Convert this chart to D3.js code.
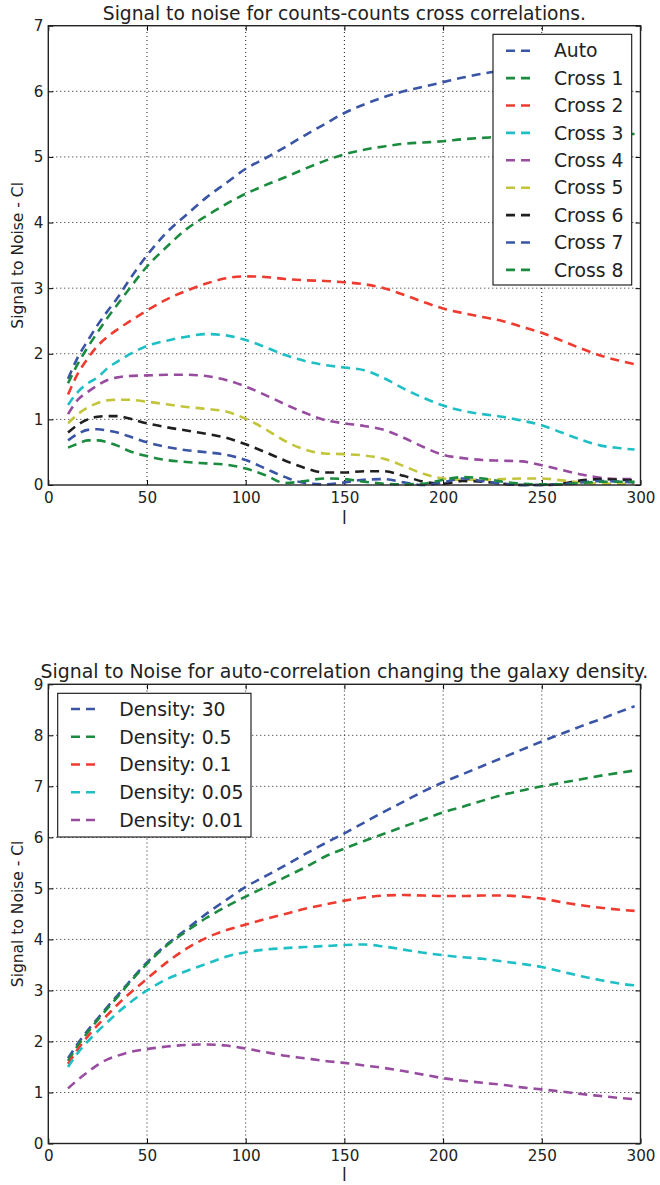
<!DOCTYPE html>
<html>
<head>
<meta charset="utf-8">
<script src="https://cdn.jsdelivr.net/npm/d3@7"></script>
<style>
  body { margin: 0; background: #fff; }
  svg { display: block; }
  text { font-family: "DejaVu Sans", sans-serif; fill: #222; }
</style>
</head>
<body>
<svg id="fig" width="660" height="1185"></svg>
<script>
// Multipole sampling shared by every curve
const ell = [10, 15, 20, 25, 30, 35, 40, 50, 60, 70, 80, 90, 100, 110, 120, 130, 140,
             150, 160, 170, 180, 190, 200, 210, 220, 230, 240, 250, 260, 270, 280, 290, 297];

// Counts-counts cross correlations: signal to noise
const autoSN   = [1.62,1.95,2.2,2.44,2.65,2.85,3.08,3.5,3.85,4.12,4.38,4.6,4.82,4.98,5.15,5.33,5.5,
                  5.67,5.8,5.91,6.0,6.07,6.14,6.21,6.27,6.31,6.34,6.37,6.39,6.41,6.42,6.43,6.43];
const cross1SN = [1.55,1.85,2.1,2.33,2.55,2.75,2.95,3.33,3.63,3.9,4.1,4.28,4.44,4.57,4.69,4.82,4.94,
                  5.04,5.11,5.16,5.2,5.22,5.24,5.27,5.29,5.31,5.32,5.33,5.34,5.34,5.35,5.35,5.35];
const cross2SN = [1.38,1.7,1.93,2.12,2.26,2.37,2.47,2.66,2.83,2.96,3.07,3.15,3.18,3.17,3.14,3.12,3.11,
                  3.09,3.06,3.0,2.9,2.79,2.69,2.62,2.56,2.5,2.41,2.32,2.2,2.08,1.97,1.89,1.84];
const cross3SN = [1.22,1.42,1.55,1.64,1.78,1.88,1.97,2.12,2.2,2.26,2.3,2.28,2.21,2.1,1.98,1.89,1.83,
                  1.79,1.75,1.63,1.47,1.33,1.21,1.13,1.08,1.04,0.98,0.91,0.8,0.69,0.6,0.56,0.54];
const cross4SN = [1.08,1.3,1.42,1.52,1.6,1.64,1.66,1.67,1.68,1.68,1.66,1.6,1.5,1.37,1.23,1.1,0.99,
                  0.94,0.9,0.84,0.72,0.58,0.46,0.41,0.38,0.37,0.36,0.3,0.23,0.16,0.11,0.09,0.09];
const cross5SN = [0.94,1.08,1.18,1.25,1.29,1.3,1.3,1.27,1.23,1.19,1.16,1.12,1.01,0.85,0.67,0.54,0.48,
                  0.47,0.45,0.4,0.29,0.17,0.1,0.08,0.08,0.09,0.1,0.1,0.07,0.04,0.02,0.02,0.02];
const cross6SN = [0.8,0.92,1.0,1.04,1.05,1.05,1.02,0.94,0.88,0.83,0.78,0.72,0.62,0.5,0.37,0.26,0.19,
                  0.19,0.21,0.21,0.14,0.05,0.02,0.06,0.05,0.02,0.0,0.0,0.02,0.07,0.09,0.08,0.07];
const cross7SN = [0.68,0.78,0.84,0.85,0.83,0.8,0.75,0.65,0.58,0.53,0.5,0.46,0.38,0.25,0.12,0.03,0.01,
                  0.04,0.08,0.09,0.04,0.0,0.04,0.1,0.06,0.02,0.0,0.0,0.01,0.04,0.06,0.05,0.04];
const cross8SN = [0.57,0.63,0.68,0.68,0.65,0.6,0.53,0.44,0.38,0.35,0.33,0.31,0.25,0.15,0.03,0.06,0.1,
                  0.09,0.05,0.02,0.01,0.02,0.08,0.12,0.1,0.05,0.02,0.01,0.01,0.03,0.05,0.05,0.05];

// Auto-correlation for different galaxy densities
const dens30SN  = [1.67,1.96,2.22,2.45,2.68,2.9,3.12,3.55,3.9,4.2,4.5,4.77,5.03,5.24,5.45,5.67,5.88,
                   6.08,6.29,6.5,6.7,6.9,7.08,7.24,7.4,7.56,7.72,7.88,8.03,8.18,8.32,8.47,8.57];
const dens05SN  = [1.62,1.92,2.18,2.42,2.65,2.87,3.1,3.52,3.88,4.16,4.42,4.64,4.84,5.03,5.22,5.41,5.62,
                   5.78,5.93,6.07,6.21,6.35,6.49,6.6,6.72,6.83,6.92,7.0,7.07,7.14,7.21,7.27,7.31];
const dens01SN  = [1.56,1.85,2.1,2.32,2.52,2.72,2.9,3.23,3.55,3.82,4.03,4.18,4.29,4.4,4.5,4.6,4.68,
                   4.76,4.82,4.86,4.87,4.86,4.85,4.85,4.86,4.86,4.84,4.8,4.73,4.67,4.62,4.58,4.56];
const dens005SN = [1.5,1.78,2.0,2.2,2.38,2.56,2.72,3.0,3.22,3.38,3.52,3.66,3.75,3.8,3.83,3.85,3.87,
                   3.89,3.9,3.86,3.8,3.74,3.69,3.65,3.62,3.57,3.52,3.46,3.37,3.28,3.2,3.13,3.1];
const dens001SN = [1.08,1.25,1.4,1.54,1.65,1.72,1.78,1.85,1.9,1.93,1.94,1.92,1.86,1.79,1.72,1.67,1.62,
                   1.58,1.53,1.48,1.42,1.35,1.28,1.23,1.19,1.15,1.1,1.06,1.02,0.97,0.93,0.89,0.87];

const crossNames = ["Auto", "Cross 1", "Cross 2", "Cross 3", "Cross 4", "Cross 5", "Cross 6", "Cross 7", "Cross 8"];
const densNames  = ["Density: 30", "Density: 0.5", "Density: 0.1", "Density: 0.05", "Density: 0.01"];

const xTicks = [0, 50, 100, 150, 200, 250, 300];
const yTicksTop = [0, 1, 2, 3, 4, 5, 6, 7];
const yTicksBottom = [0, 1, 2, 3, 4, 5, 6, 7, 8, 9];

// line colours
const C = {
  b: "#3a55a6", g: "#1b8b3f", r: "#ef3b2f", c: "#1fbfc6",
  m: "#984ca0", y: "#c2c43a", k: "#1f1f1f"
};
const crossColors = [C.b, C.g, C.r, C.c, C.m, C.y, C.k, C.b, C.g];
const densColors  = [C.b, C.g, C.r, C.c, C.m];

const svg = d3.select("#fig");
const x = d3.scaleLinear().domain([0, 300]).range([48.3, 640.5]);
const DASH = "9,6";
const LW = 2.6;

function panel(cfg) {
  const y = d3.scaleLinear().domain([0, cfg.yMax]).range([cfg.y0, cfg.y1]);
  const g = svg.append("g");

  // dotted grid
  const grid = g.append("g").attr("stroke", "#000").attr("stroke-width", 0.9)
    .attr("stroke-dasharray", "1,3");
  grid.selectAll("line.vx").data(xTicks.slice(1, -1)).join("line")
    .attr("x1", d => x(d)).attr("x2", d => x(d))
    .attr("y1", cfg.y0).attr("y2", cfg.y1);
  grid.selectAll("line.hy").data(cfg.yTicks.slice(1, -1)).join("line")
    .attr("x1", x(0)).attr("x2", x(300))
    .attr("y1", d => y(d)).attr("y2", d => y(d));

  // axes with inward ticks on all four sides
  const styleAxis = sel => {
    sel.select(".domain").remove();
    sel.selectAll(".tick line").attr("stroke", "#000").attr("stroke-width", 1);
    sel.selectAll(".tick text").attr("font-family", "DejaVu Sans").attr("font-size", 15.2).attr("fill", "#222");
  };
  g.append("g").attr("transform", `translate(0,${cfg.y0})`)
    .call(d3.axisBottom(x).tickValues(xTicks).tickSize(-5).tickPadding(7).tickFormat(d3.format("d")))
    .call(styleAxis);
  g.append("g").attr("transform", `translate(0,${cfg.y1})`)
    .call(d3.axisTop(x).tickValues(xTicks).tickSize(-5).tickFormat(""))
    .call(styleAxis);
  g.append("g").attr("transform", `translate(${x(0)},0)`)
    .call(d3.axisLeft(y).tickValues(cfg.yTicks).tickSize(-5).tickPadding(5).tickFormat(d3.format("d")))
    .call(styleAxis);
  g.append("g").attr("transform", `translate(${x(300)},0)`)
    .call(d3.axisRight(y).tickValues(cfg.yTicks).tickSize(-5).tickFormat(""))
    .call(styleAxis);

  // curves
  const line = d3.line().x((d, i) => x(ell[i])).y(d => y(d)).curve(d3.curveMonotoneX);
  g.append("g").selectAll("path").data(cfg.series).join("path")
    .attr("d", d => line(d))
    .attr("fill", "none")
    .attr("stroke", (d, i) => cfg.colors[i])
    .attr("stroke-width", LW)
    .attr("stroke-dasharray", DASH);

  // frame
  g.append("rect").attr("x", x(0)).attr("y", cfg.y1)
    .attr("width", x(300) - x(0)).attr("height", cfg.y0 - cfg.y1)
    .attr("fill", "none").attr("stroke", "#222").attr("stroke-width", 1.4);

  // title and axis labels
  g.append("text").attr("x", (x(0) + x(300)) / 2).attr("y", cfg.titleY)
    .attr("text-anchor", "middle").attr("font-size", cfg.titleSize).text(cfg.title);
  g.append("text")
    .attr("transform", `translate(23,${(cfg.y0 + cfg.y1) / 2}) rotate(-90)`)
    .attr("text-anchor", "middle").attr("font-size", 15.5).text("Signal to Noise - Cl");
  g.append("text").attr("x", (x(0) + x(300)) / 2).attr("y", cfg.xlabelY)
    .attr("text-anchor", "middle").attr("font-size", 17).text("l");

  // legend
  const L = cfg.legend;
  const lg = g.append("g");
  lg.append("rect").attr("x", L.x).attr("y", L.y).attr("width", L.w).attr("height", L.h)
    .attr("fill", "#fff").attr("stroke", "#111").attr("stroke-width", 1.1);
  const rows = lg.selectAll("g.row").data(cfg.names).join("g")
    .attr("transform", (d, i) => `translate(0,${L.row0 + i * L.step})`);
  rows.append("line").attr("x1", L.lx0).attr("x2", L.lx1).attr("y1", 0).attr("y2", 0)
    .attr("stroke", (d, i) => cfg.colors[i]).attr("stroke-width", LW)
    .attr("stroke-dasharray", DASH);
  rows.append("text").attr("x", L.tx).attr("y", 0).attr("dy", "0.36em")
    .attr("font-size", 18.8).text(d => d);
}

panel({
  y0: 485, y1: 25.7, yMax: 7, yTicks: yTicksTop,
  title: "Signal to noise for counts-counts cross correlations.", titleY: 19.5, titleSize: 18.7,
  xlabelY: 524,
  series: [autoSN, cross1SN, cross2SN, cross3SN, cross4SN, cross5SN, cross6SN, cross7SN, cross8SN],
  colors: crossColors, names: crossNames,
  legend: { x: 493, y: 34.3, w: 138.7, h: 250.7, lx0: 506, lx1: 531, tx: 554, row0: 50.7, step: 27.4 }
});

panel({
  y0: 1143.5, y1: 684.3, yMax: 9, yTicks: yTicksBottom,
  title: "Signal to Noise for auto-correlation changing the galaxy density.", titleY: 677.5, titleSize: 18.9,
  xlabelY: 1181,
  series: [dens30SN, dens05SN, dens01SN, dens005SN, dens001SN],
  colors: densColors, names: densNames,
  legend: { x: 57.7, y: 693.3, w: 193.3, h: 143.7, lx0: 71, lx1: 96, tx: 119.3, row0: 709, step: 27.75 }
});
</script>
</body>
</html>
